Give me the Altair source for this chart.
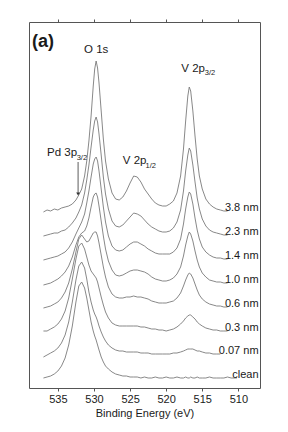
import altair as alt
import pandas as pd

# Binding energy grid (eV)
be = [537.0, 536.5, 536.0, 535.5, 535.0, 534.5, 534.0, 533.5, 533.0, 532.5,
      532.1, 531.7, 531.3, 531.0, 530.7, 530.4, 530.1, 529.9, 529.7, 529.5,
      529.3, 529.0, 528.7, 528.4, 528.0, 527.5, 527.0, 526.5, 526.0, 525.5,
      525.0, 524.5, 524.0, 523.5, 523.0, 522.5, 522.0, 521.5, 521.0, 520.5,
      520.0, 519.5, 519.0, 518.5, 518.0, 517.6, 517.3, 517.0, 516.8, 516.6,
      516.3, 516.0, 515.7, 515.4, 515.0, 514.5, 514.0, 513.5, 513.0, 512.5,
      512.0, 511.5, 511.0, 510.2]

series_names = ["3.8 nm", "2.3 nm", "1.4 nm", "1.0 nm", "0.6 nm", "0.3 nm", "0.07 nm", "clean"]
series_offset = [177, 153, 129, 105, 81, 57, 34, 10]

s_38 = [-1, 1, 0, 2, 1, 3, 4, 5, 7, 11,
        16, 22, 35, 50, 70, 95, 125, 142, 150, 143,
        128, 100, 72, 50, 32, 18, 12, 11, 14, 20,
        28, 35, 34, 29, 22, 17, 12, 8, 6, 5,
        5, 7, 10, 18, 35, 62, 90, 115, 124, 120,
        100, 75, 52, 35, 22, 12, 7, 4, 2, 1,
        0, 0, None, None]
s_23 = [-1, 0, 1, 2, 2, 4, 5, 8, 12, 17,
        23, 30, 42, 55, 70, 88, 105, 114, 118, 113,
        101, 80, 58, 41, 26, 14, 9, 8, 10, 14,
        18, 22, 21, 19, 15, 11, 8, 6, 4, 3,
        3, 4, 7, 13, 25, 44, 64, 80, 87, 84,
        70, 53, 37, 26, 16, 9, 5, 3, 2, 1,
        0, 0, None, None]
s_14 = [-1, 0, 1, 2, 3, 5, 7, 11, 17, 25,
        31, 37, 45, 56, 68, 82, 95, 100, 102, 98,
        88, 70, 52, 37, 23, 13, 9, 8, 9, 12,
        15, 17, 17, 15, 13, 10, 8, 6, 5, 5,
        5, 5, 7, 11, 20, 35, 50, 62, 67, 65,
        55, 41, 29, 20, 12, 7, 4, 2, 1, 1,
        0, 0, None, None]
s_10 = [-2, -1, 0, 2, 4, 7, 11, 17, 26, 38,
        46, 50, 52, 57, 65, 76, 86, 89, 90, 86,
        77, 62, 47, 34, 22, 13, 8, 7, 8, 10,
        12, 13, 13, 12, 11, 9, 6, 4, 3, 2,
        2, 3, 5, 9, 16, 27, 38, 47, 51, 49,
        42, 32, 23, 16, 10, 6, 3, 2, 1, 1,
        0, 0, None, None]
s_06 = [-1, 0, 1, 3, 5, 9, 15, 24, 38, 55,
        68, 72, 68, 65, 66, 70, 74, 75, 75, 71,
        64, 52, 40, 30, 20, 13, 10, 9, 9, 10,
        10, 11, 10, 10, 9, 8, 6, 5, 4, 4,
        4, 5, 6, 9, 14, 21, 27, 32, 34, 33,
        29, 23, 17, 12, 8, 5, 3, 2, 1, 1,
        0, 0, None, None]
s_03 = [0, 0, 2, 4, 7, 12, 20, 33, 52, 72,
        85, 88, 82, 74, 66, 60, 57, 55, 53, 49,
        43, 34, 26, 19, 13, 8, 6, 5, 5, 5,
        5, 5, 5, 4, 4, 3, 2, 2, 1, 1,
        0, 1, 2, 4, 7, 10, 13, 15, 16, 16,
        14, 12, 9, 7, 5, 3, 2, 1, 1, 0,
        0, 0, None, None]
s_007 = [-3, -1, 1, 3, 6, 11, 19, 32, 52, 74,
         88, 92, 86, 75, 62, 52, 44, 40, 37, 33,
         28, 22, 17, 13, 9, 6, 4, 3, 3, 2,
         2, 2, 2, 1, 1, 1, 0, 0, 0, 0,
         0, 0, 1, 1, 2, 3, 4, 5, 5, 5,
         5, 4, 3, 3, 2, 1, 1, 0, 0, 0,
         None, None, None, None]
s_clean = [0, 1, 2, 4, 7, 12, 20, 33, 52, 76,
           92, 96, 90, 80, 68, 56, 47, 42, 38, 33,
           28, 21, 16, 12, 9, 6, 4, 3, 2, 2,
           1, 1, 1, 0, 1, 0, 0, 1, 0, 0,
           1, 0, 0, 1, 0, 0, 1, 0, 0, 1,
           0, 0, 1, 0, 0, 0, 1, 0, 0, 0,
           0, 1, 0, 0]

series_values = [s_38, s_23, s_14, s_10, s_06, s_03, s_007, s_clean]

rows = []
for name, off, vals in zip(series_names, series_offset, series_values):
    for e, h in zip(be, vals):
        if h is not None:
            rows.append({"series": name, "be": e, "v": off + h})
df = pd.DataFrame(rows)

FONT = "Liberation Sans"
GRAY = "#7a7a7a"
TXT = "#1a1a1a"
TICKS = [535, 530, 525, 520, 515, 510]

xscale = alt.Scale(domain=[507, 539], reverse=True, nice=False, zero=False)
yscale = alt.Scale(domain=[0, 366], nice=False, zero=False)


def xs(field="be"):
    return alt.X(f"{field}:Q", scale=xscale, axis=None)


def ys(field="v"):
    return alt.Y(f"{field}:Q", scale=yscale, axis=None)


lines = alt.Chart(df).mark_line(color=GRAY, strokeWidth=0.9).encode(
    x=alt.X("be:Q", scale=xscale,
            axis=alt.Axis(values=TICKS, format="d", orient="bottom",
                          title="Binding Energy (eV)", grid=False, domain=False,
                          tickSize=3, tickColor="#555", labelFontSize=11, labelFont=FONT,
                          labelColor=TXT, titleFont=FONT, titleFontSize=11,
                          titleFontWeight="normal", titleColor=TXT, titlePadding=3)),
    y=alt.Y("v:Q", scale=yscale,
            axis=alt.Axis(title="XPS Intensity (a.u.)", ticks=False, labels=False,
                          domain=False, grid=False, titleFont=FONT, titleFontSize=11,
                          titleFontWeight="normal", titleColor=TXT, titlePadding=4)),
    detail="series:N",
)

top_ticks = alt.Chart(pd.DataFrame({"be": [TICKS[0]], "v": [0]})).mark_point(opacity=0).encode(
    x=alt.X("be:Q", scale=xscale,
            axis=alt.Axis(orient="top", values=TICKS, labels=False, title=None,
                          grid=False, domain=False, tickSize=3, tickColor="#555")),
    y=ys())

# series labels at right end
lab_df = pd.DataFrame({"name": series_names, "be": [507.2] * 8,
                       "v": [o + 0.5 for o in series_offset]})
labels = alt.Chart(lab_df).mark_text(align="right", baseline="alphabetic", font=FONT,
                                     fontSize=11, color=TXT).encode(
    x=xs(), y=ys(), text="name:N")

ann_df = pd.DataFrame({
    "t": ["O 1s", "V 2p", "V 2p", "Pd 3p"],
    "be": [529.7, 517.9, 526.0, 536.5],
    "v": [335, 316, 224, 232],
    "al": ["center", "left", "left", "left"],
})
ann_c = alt.Chart(ann_df[ann_df.al == "center"]).mark_text(
    align="center", baseline="alphabetic", font=FONT, fontSize=11.5, color=TXT).encode(
    x=xs(), y=ys(), text="t:N")
ann_l = alt.Chart(ann_df[ann_df.al == "left"]).mark_text(
    align="left", baseline="alphabetic", font=FONT, fontSize=11.5, color=TXT).encode(
    x=xs(), y=ys(), text="t:N")

sub_df = pd.DataFrame({"t": ["3/2", "1/2", "3/2"],
                       "be": [514.65, 522.85, 532.4],
                       "v": [313, 220, 228]})
subs = alt.Chart(sub_df).mark_text(align="left", baseline="alphabetic", font=FONT,
                                   fontSize=7.5, color=TXT).encode(
    x=xs(), y=ys(), text="t:N")

panel_df = pd.DataFrame({"t": ["(a)"], "be": [538.6], "v": [341]})
panel = alt.Chart(panel_df).mark_text(align="left", baseline="alphabetic", font=FONT,
                                      fontSize=18, fontWeight="bold", color=TXT).encode(
    x=xs(), y=ys(), text="t:N")

arrow_df = pd.DataFrame({"be": [532.2], "v1": [226], "v2": [194]})
arrow_line = alt.Chart(arrow_df).mark_rule(color="#333", strokeWidth=0.8).encode(
    x=xs(), y=ys("v1"), y2="v2:Q")
arrow_head = alt.Chart(arrow_df).mark_point(shape="triangle-down", filled=True,
                                            size=14, color="#333", opacity=1).encode(
    x=xs(), y=ys("v2"))

chart = alt.layer(lines, top_ticks, labels, ann_c, ann_l, subs, panel,
                  arrow_line, arrow_head).resolve_axis(x="independent").properties(
    width=231, height=366,
    padding={"left": 21, "top": 14, "right": 20, "bottom": 36},
    autosize=alt.AutoSizeParams(type="none"),
).configure_view(stroke="#555", strokeWidth=1)

chart.save("out.html", embed_options={"renderer": "svg", "actions": False})
